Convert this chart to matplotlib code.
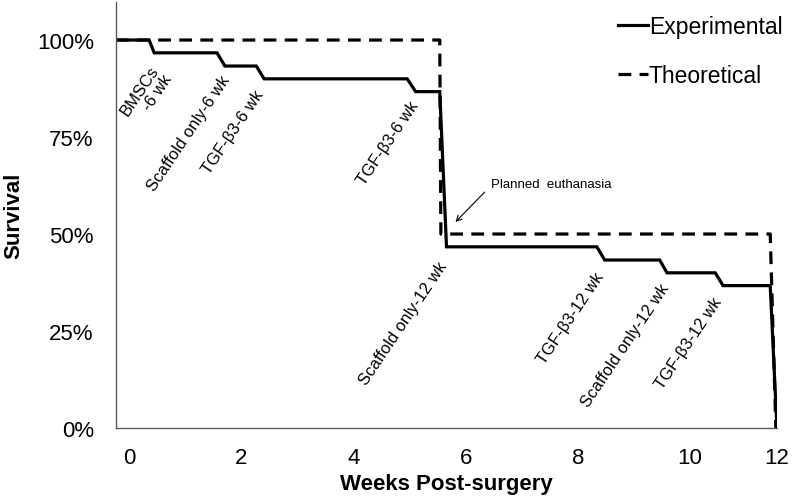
import matplotlib
matplotlib.use("Agg")
import matplotlib.pyplot as plt
from matplotlib.ticker import PercentFormatter

plt.rcParams['font.family'] = ['Liberation Sans', 'DejaVu Sans']

# survival curves (weeks post-surgery, fraction surviving)
exp_weeks = [-0.23, 0.36, 0.45, 1.57, 1.71, 2.27, 2.41, 4.96, 5.11, 5.54, 5.66,
             8.34, 8.48, 9.46, 9.59, 10.45, 10.59, 11.43, 11.55]
exp_surv = [1.0, 1.0, 0.967, 0.967, 0.933, 0.933, 0.9, 0.9, 0.867, 0.867, 0.467,
            0.467, 0.433, 0.433, 0.4, 0.4, 0.367, 0.367, 0.0]

theo_weeks = [-0.23, 5.54, 5.56, 11.43, 11.53]
theo_surv = [1.0, 1.0, 0.5, 0.5, 0.0]

# group labels at each death
event_labels = ["BMSCs\n-6 wk", "Scaffold only-6 wk", "TGF-\u03b23-6 wk", "TGF-\u03b23-6 wk",
                "Scaffold only-12 wk", "TGF-\u03b23-12 wk", "Scaffold only-12 wk", "TGF-\u03b23-12 wk"]
label_pos = [(0.31, 0.86), (1.06, 0.76), (1.86, 0.765), (4.62, 0.735),
             (4.89, 0.27), (7.88, 0.285), (8.84, 0.215), (9.98, 0.22)]

x_ticks = [0, 2, 4, 6, 8, 10, 11.55]
x_ticklabels = ["0", "2", "4", "6", "8", "10", "12"]
y_ticks = [0, 0.25, 0.5, 0.75, 1.0]

fig = plt.figure(figsize=(7.92, 5.02), dpi=100)
ax = fig.add_axes([0.1465, 0.1454, 0.8345, 0.8486])

ax.plot(exp_weeks, exp_surv, color='black', lw=2.3, label='Experimental',
        solid_joinstyle='miter')
ax.plot(theo_weeks, theo_surv, color='black', lw=2.3, dashes=(4, 2.6),
        label='Theoretical')

for txt, (x, y) in zip(event_labels, label_pos):
    ax.text(x, y, txt, rotation=56, ha='center', va='center', fontsize=12,
            multialignment='right', linespacing=1.1)

# arrow to the planned euthanasia time point
ax.text(6.46, 0.628, "Planned  euthanasia", fontsize=9.5, va='center', ha='left')
ax.annotate("", xy=(5.82, 0.531), xytext=(6.34, 0.608),
            arrowprops=dict(arrowstyle='->', color='black', lw=0.8,
                            shrinkA=0, shrinkB=0))

ax.set_xlim(-0.23, 11.55)
ax.set_ylim(0, 1.098)
ax.set_xticks(x_ticks)
ax.set_xticklabels(x_ticklabels)
ax.set_yticks(y_ticks)
ax.yaxis.set_major_formatter(PercentFormatter(1.0, decimals=0))
ax.tick_params(axis='both', length=0, labelsize=16)
ax.tick_params(axis='y', pad=16)
ax.tick_params(axis='x', pad=14)

for s in ['top', 'right']:
    ax.spines[s].set_visible(False)
for s in ['left', 'bottom']:
    ax.spines[s].set_color('#595959')
    ax.spines[s].set_linewidth(1.0)

ax.set_xlabel("Weeks Post-surgery", fontsize=16, fontweight='bold', labelpad=3)
ax.set_ylabel("Survival", fontsize=16, fontweight='bold', labelpad=9)

ax.legend(loc='upper right', bbox_to_anchor=(1.008, 1.0), bbox_transform=fig.transFigure,
          frameon=False, fontsize=16.5, handlelength=1.3, handletextpad=0.05,
          labelspacing=1.15, borderaxespad=0.3)

fig.savefig("out.png", dpi=100)
